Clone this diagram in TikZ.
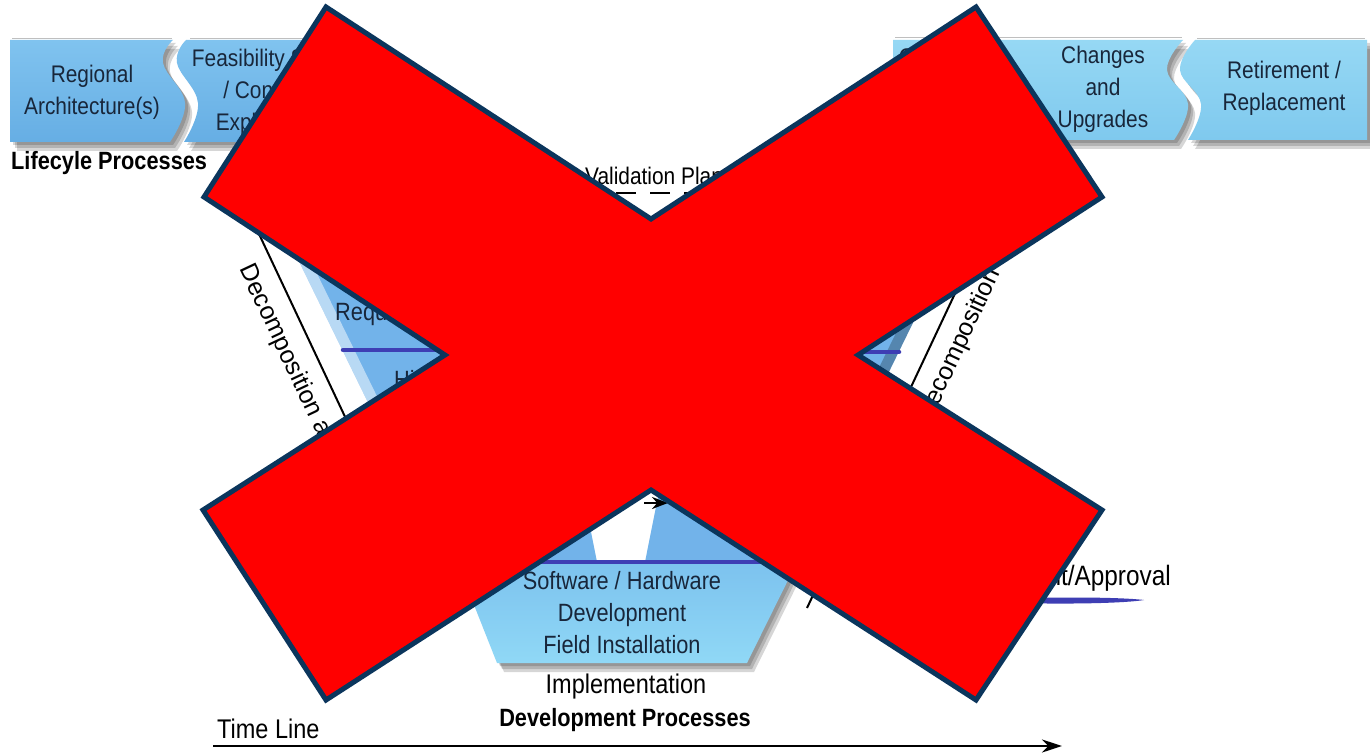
\documentclass[tikz,border=0pt]{standalone}
\usepackage{fontspec}
\setmainfont{Liberation Sans}[FakeStretch=0.87]
\newfontfamily\rotfont{Liberation Sans}
\usetikzlibrary{arrows.meta}
\definecolor{boxLtop}{HTML}{80C3EF}
\definecolor{boxLbot}{HTML}{66AEE4}
\definecolor{boxRtop}{HTML}{96D8F4}
\definecolor{boxRbot}{HTML}{7FC9EE}
\definecolor{boxtext}{HTML}{18263A}
\definecolor{varm}{HTML}{72B3EA}
\definecolor{traptop}{HTML}{7CC2EE}
\definecolor{trapbot}{HTML}{90D8F6}
\definecolor{docline}{HTML}{3E3EB4}
\definecolor{xred}{HTML}{FF0000}
\definecolor{xborder}{HTML}{0B355C}
\begin{document}
\begin{tikzpicture}[x=1pt,y=-1pt,
  boxtxt/.style={align=center, text=boxtext, inner sep=0pt, font=\fontsize{24}{32}\selectfont},
  plain/.style={text=black, inner sep=0pt},
  armline/.style={line width=2pt, black},
  docmark/.style={line width=4.5pt, docline, line cap=round},
  plandash/.style={line width=2.5pt, black, dash pattern=on 20pt off 14pt},
  shadowfill/.style={fill=black, opacity=0.16},
]
\fill[white] (0,0) rectangle (1370,754);
\useasboundingbox (0,0) rectangle (1370,754);

% ---------- top bar: shadows ----------
\foreach \sx/\sy in {3/3,5/6,7/9}{
\begin{scope}[shift={(\sx,\sy)}]
 \fill[shadowfill] (10,40) -- plot[smooth,tension=0.7] coordinates {(173,40) (163,63) (185,103) (170,142)} -- (10,142) -- cycle;
 \fill[shadowfill] (360,40) -- plot[smooth,tension=0.7] coordinates {(186,40) (177,63) (198,103) (184,142)} -- (360,142) -- cycle;
 \fill[shadowfill] (893,40) -- plot[smooth,tension=0.7] coordinates {(1183,40) (1167,70) (1188,104) (1174,140)} -- (893,140) -- cycle;
 \fill[shadowfill] (1367,40) -- plot[smooth,tension=0.7] coordinates {(1195,40) (1180,70) (1201,104) (1188,140)} -- (1367,140) -- cycle;
 \fill[shadowfill] (457,562) -- (797,562) -- (747,663) -- (497,663) -- cycle;
\end{scope}}

% ---------- top bar: boxes ----------
\shade[top color=boxLtop, bottom color=boxLbot] (10,40) -- plot[smooth,tension=0.7] coordinates {(173,40) (163,63) (185,103) (170,142)} -- (10,142) -- cycle;
\shade[top color=boxLtop, bottom color=boxLbot] (360,40) -- plot[smooth,tension=0.7] coordinates {(186,40) (177,63) (198,103) (184,142)} -- (360,142) -- cycle;
\shade[top color=boxRtop, bottom color=boxRbot] (893,40) -- plot[smooth,tension=0.7] coordinates {(1183,40) (1167,70) (1188,104) (1174,140)} -- (893,140) -- cycle;
\shade[top color=boxRtop, bottom color=boxRbot] (1367,40) -- plot[smooth,tension=0.7] coordinates {(1195,40) (1180,70) (1201,104) (1188,140)} -- (1367,140) -- cycle;
\draw[black!25, line width=1pt] (12,39) -- (172,39) (188,39) (190,39) -- (358,39) (895,38) -- (1182,38) (1197,39) -- (1365,39);

\node[boxtxt] (reg) at (92,92) {Regional\\Architecture(s)};
\node[boxtxt] (feas) at (268,92) {Feasibility Study\\/ Concept\\Exploration};
\node[boxtxt] (ops) at (950,89) {Operations\\and\\Maintenance};
\node[boxtxt] (chg) at (1103,89) {Changes\\and\\Upgrades};
\node[boxtxt] (ret) at (1284,88) {Retirement /\\Replacement};

\node[plain, anchor=west, font=\bfseries\fontsize{25}{30}\selectfont] (lp) at (11,163) {Lifecyle Processes};

% ---------- V arms ----------
\fill[varm] (269,200) -- (525,200) -- (597,562) -- (446,562) -- cycle;
\fill[varm] (973,200) -- (717,200) -- (645,562) -- (796,562) -- cycle;
\fill[white, opacity=0.5] (269,200) -- (281,200) -- (458,562) -- (446,562) -- cycle;
\fill[black, opacity=0.25] (973,200) -- (961,200) -- (784,562) -- (796,562) -- cycle;
\draw[docmark] (343,350) -- (554,350);
\draw[docmark] (688,352) -- (899,352);
\node[boxtxt, anchor=west, font=\fontsize{25}{30}\selectfont] (req) at (335,314) {Requirements};
\node[boxtxt, anchor=west, font=\fontsize{25}{30}\selectfont] (hld) at (394,382) {High-Level Design};

% ---------- bottom trapezoid ----------
\shade[top color=traptop, bottom color=trapbot] (457,562) -- (797,562) -- (747,663) -- (497,663) -- cycle;
\draw[docmark] (470,562) -- (784,562);
\node[boxtxt, font=\fontsize{25}{32}\selectfont] (impl) at (622,613) {Software / Hardware\\Development\\Field Installation};
\node[plain, font=\fontsize{27}{30}\selectfont] (implt) at (626,687) {Implementation};
\node[plain, font=\bfseries\fontsize{25}{30}\selectfont] (devp) at (625,720) {Development Processes};

% ---------- plans ----------
\node[plain, anchor=west, font=\fontsize{24}{28}\selectfont] (vplan) at (585,176) {Validation Plan};
\coordinate (vpL) at (446,193);
\coordinate (vpR) at (815,193);
\draw[plandash, -{Stealth[length=16pt,width=12pt]}] (vpL) -- (vpR);
\coordinate (utL) at (576,503);
\coordinate (utR) at (668,503);
\draw[plandash, -{Stealth[length=16pt,width=12pt]}] (utL) -- (utR);

% ---------- decomposition / recomposition ----------
\coordinate (dTop) at (243,200);
\coordinate (dBot) at (435,608);
\draw[armline, -{Stealth[length=16pt,width=12pt]}] (dTop) -- (dBot);
\node[plain, anchor=west, rotate=-64.8, font=\rotfont\fontsize{25}{30}\selectfont] (dec) at (245,266) {Decomposition and Definition};
\coordinate (rBot) at (807,608);
\coordinate (rTop) at (999,200);
\draw[armline, -{Stealth[length=16pt,width=12pt]}] (rBot) -- (rTop);
\node[plain, anchor=east, rotate=64.8, font=\rotfont\fontsize{25}{30}\selectfont] (rec) at (995,270) {Integration and Recomposition};

% ---------- legend ----------
\node[plain, anchor=east, font=\fontsize{28}{32}\selectfont] (doc) at (1171,578) {Document/Approval};
\fill[docline] (960,601) .. controls (1040,596) and (1120,597) .. (1144,600) .. controls (1120,604) and (1040,605) .. cycle;

% ---------- time line ----------
\node[plain, anchor=west, font=\fontsize{27}{30}\selectfont] (tl) at (217,729) {Time Line};
\coordinate (tl0) at (213,746);
\coordinate (tl1) at (1062,746);
\draw[line width=2.5pt, -{Stealth[length=20pt,width=13pt]}] (tl0) -- (tl1);

% ---------- red X ----------
\draw[xborder, line width=5pt, fill=xred, line join=miter]
 (326,7) -- (651,219) -- (976,7) -- (1102,197) -- (858,355) -- (1102,510) -- (976,700)
 -- (651,490) -- (326,700) -- (203,510) -- (445,355) -- (204,197) -- cycle;
\end{tikzpicture}
\end{document}
